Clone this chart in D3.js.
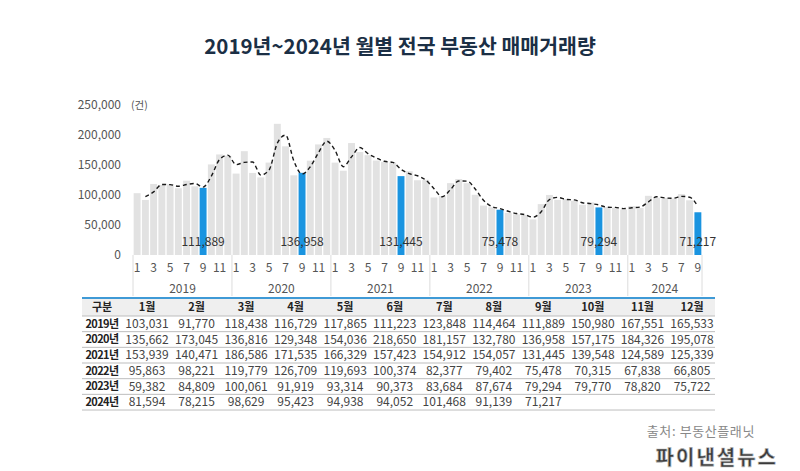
<!DOCTYPE html>
<html><head><meta charset="utf-8">
<script src="https://cdn.jsdelivr.net/npm/d3@7"></script>
<style>
html,body{margin:0;padding:0;background:#fff;}
svg text{font-family:"Noto Sans CJK KR","Noto Sans",sans-serif;}
</style></head>
<body><svg id="c" width="800" height="471"></svg>
<script>
const years = ["2019","2020","2021","2022","2023","2024"];
const monthLabels = ["1월","2월","3월","4월","5월","6월","7월","8월","9월","10월","11월","12월"];
const v2019 = [103031,91770,118438,116729,117865,111223,123848,114464,111889,150980,167551,165533];
const v2020 = [135662,173045,136816,129348,154036,218650,181157,132780,136958,157175,184326,195078];
const v2021 = [153939,140471,186586,171535,166329,157423,154912,154057,131445,139548,124589,125339];
const v2022 = [95863,98221,119779,126709,119693,100374,82377,79402,75478,70315,67838,66805];
const v2023 = [59382,84809,100061,91919,93314,90373,83684,87674,79294,79770,78820,75722];
const v2024 = [81594,78215,98629,95423,94938,94052,101468,91139,71217];
const yTicks = [0,50000,100000,150000,200000,250000];
const monthTicks = [1,3,5,7,9,11];
const highlightMonth = 9;

const yearValues = [v2019,v2020,v2021,v2022,v2023,v2024];
const data = [];
yearValues.forEach((arr,yi)=>arr.forEach((v,mi)=>data.push({year:years[yi],month:mi+1,value:v,i:data.length})));

const svg = d3.select("#c");
const fmt = d3.format(",");

// Title
svg.append("text").attr("x",400).attr("y",54).attr("text-anchor","middle")
  .attr("font-size",20.5).attr("font-weight",700).attr("fill","#1b2f45")
  .text("2019년~2024년 월별 전국 부동산 매매거래량");

const x = d3.scaleBand().domain(data.map(d=>d.i)).range([133,702]).paddingInner(0.16).paddingOuter(0.08);
const y = d3.scaleLinear().domain([0,250000]).range([255,105]);

// y axis labels
const yAxis = svg.append("g").attr("transform","translate(121,0)")
  .call(d3.axisLeft(y).tickValues(yTicks).tickFormat(fmt).tickSize(0).tickPadding(0));
yAxis.select(".domain").remove();
yAxis.selectAll("text").attr("font-size",12).attr("fill","#555");
svg.append("text").attr("x",131).attr("y",y(250000)).attr("dy","0.35em")
  .attr("font-size",10.5).attr("fill","#555").text("(건)");

// bars
svg.append("g").selectAll("rect").data(data).join("rect")
  .attr("x",d=>x(d.i)).attr("width",x.bandwidth())
  .attr("y",d=>y(d.value)).attr("height",d=>y(0)-y(d.value))
  .attr("fill",d=>d.month===highlightMonth?"#1a94e0":"#e2e2e2");

// moving average (2 periods)
const ma = data.slice(1).map(d=>({i:d.i,value:(d.value+data[d.i-1].value)/2}));
svg.append("path").datum(ma)
  .attr("d",d3.line().x(d=>x(d.i)+x.bandwidth()/2).y(d=>y(d.value)).curve(d3.curveMonotoneX))
  .attr("fill","none").attr("stroke","#1a1a1a").attr("stroke-width",1.4).attr("stroke-dasharray","4,3");

// highlight labels
svg.append("g").selectAll("text").data(data.filter(d=>d.month===highlightMonth)).join("text")
  .attr("x",d=>x(d.i)+x.bandwidth()/2).attr("y",242).attr("dy","0.35em")
  .attr("text-anchor","middle").attr("font-size",12).attr("fill","#333")
  .text(d=>fmt(d.value));

// category axis
const gx = svg.append("g");
gx.selectAll("text.m").data(data.filter(d=>monthTicks.includes(d.month))).join("text")
  .attr("class","m").attr("x",d=>x(d.i)+x.bandwidth()/2).attr("y",268).attr("dy","0.35em")
  .attr("text-anchor","middle").attr("font-size",12).attr("fill","#555").text(d=>d.month);
const yearStart = years.map(yr=>{const ds=data.filter(d=>d.year===yr);return {yr,first:ds[0].i,last:ds[ds.length-1].i};});
const step = x.step();
const edge = i => x(i) - (step - x.bandwidth())/2;
const bounds = yearStart.map(o=>edge(o.first)).concat([edge(data.length-1)+step]);
gx.selectAll("line").data(bounds).join("line")
  .attr("x1",d=>d).attr("x2",d=>d).attr("y1",255).attr("y2",296)
  .attr("stroke","#dcdcdc").attr("stroke-width",1);
gx.selectAll("text.y").data(yearStart).join("text")
  .attr("class","y").attr("x",(d,k)=>(bounds[k]+bounds[k+1])/2).attr("y",289).attr("dy","0.35em")
  .attr("text-anchor","middle").attr("font-size",12).attr("fill","#555").text(d=>d.yr);

// Table
const tx0 = 82, tx1 = 715;
const col = d3.scalePoint().domain(monthLabels).range([147,692]);
const rowH = 15.67, headTop = 298, headBot = 316;
const tg = svg.append("g");
tg.append("rect").attr("x",tx0).attr("y",headTop).attr("width",tx1-tx0).attr("height",headBot-headTop).attr("fill","#efefef");
tg.append("line").attr("x1",tx0).attr("x2",tx1).attr("y1",headTop).attr("y2",headTop).attr("stroke","#3f9ad6").attr("stroke-width",2);
tg.append("text").attr("x",102).attr("y",(headTop+headBot)/2).attr("dy","0.35em").attr("text-anchor","middle")
  .attr("font-size",11).attr("font-weight",700).attr("fill","#222").text("구분");
tg.selectAll("text.h").data(monthLabels).join("text").attr("class","h")
  .attr("x",d=>col(d)).attr("y",(headTop+headBot)/2).attr("dy","0.35em").attr("text-anchor","middle")
  .attr("font-size",11).attr("font-weight",700).attr("fill","#222").text(d=>d);
yearValues.forEach((arr,yi)=>{
  const top = headBot + yi*rowH, cy = top + rowH/2;
  tg.append("line").attr("x1",tx0).attr("x2",tx1).attr("y1",top+rowH).attr("y2",top+rowH)
    .attr("stroke","#bdbdbd").attr("stroke-width",1);
  tg.append("text").attr("x",102).attr("y",cy).attr("dy","0.35em").attr("text-anchor","middle")
    .attr("font-size",11).attr("font-weight",700).attr("fill","#222").attr("letter-spacing",-0.6).text(years[yi]+"년");
  tg.selectAll(null).data(arr).join("text")
    .attr("x",(d,mi)=>col(monthLabels[mi])).attr("y",cy).attr("dy","0.35em").attr("text-anchor","middle")
    .attr("font-size",12).attr("fill","#444").text(d=>fmt(d));
});
tg.append("line").attr("x1",tx0).attr("x2",tx1).attr("y1",headBot).attr("y2",headBot).attr("stroke","#bdbdbd");

// source & watermark
svg.append("text").attr("x",755).attr("y",431).attr("text-anchor","end").attr("dy","0.35em")
  .attr("font-size",13).attr("letter-spacing",0.6).attr("fill","#888").text("출처: 부동산플래닛");
svg.append("text").attr("x",778).attr("y",458).attr("text-anchor","end").attr("dy","0.35em")
  .attr("font-size",20).attr("font-weight",700).attr("letter-spacing",2)
  .attr("fill","#3a3a3a").attr("stroke","#bbb").attr("stroke-width",0.6).text("파이낸셜뉴스");
</script></body></html>
